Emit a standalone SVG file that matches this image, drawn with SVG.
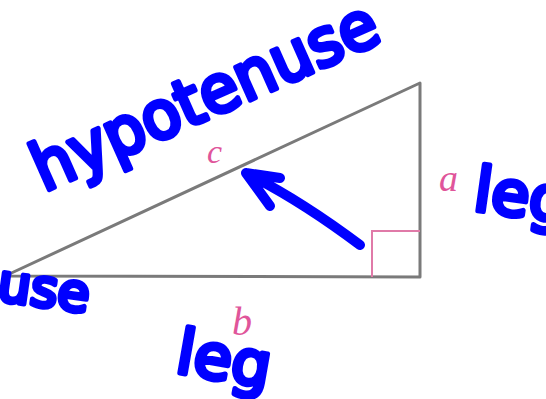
<svg xmlns="http://www.w3.org/2000/svg" width="546" height="399" viewBox="0 0 546 399">
<style>
.hand{font-family:"DejaVu Sans",sans-serif;font-weight:normal;fill:#0000ff;stroke:#0000ff;stroke-width:5;stroke-linejoin:round;stroke-linecap:round}
.lbl{font-family:"Liberation Serif",serif;font-style:italic;fill:#e0559a}
</style>
<rect width="546" height="399" fill="#ffffff"/>
<g id="triangle">
<polygon points="5,276 420,277 420,83" fill="none" stroke="#7a7a7a" stroke-width="3" stroke-linejoin="round"/>
<polyline points="372,277 372,231 420,231" fill="none" stroke="#e07aa8" stroke-width="2"/>
</g>
<g id="labels">
<text class="lbl" x="207" y="163" font-size="34">c</text>
<text class="lbl" x="439" y="191" font-size="38">a</text>
<text class="lbl" x="232" y="335" font-size="40">b</text>
</g>
<g id="annotations">
<text class="hand" font-size="66" transform="translate(44,192) rotate(-24)" textLength="372" lengthAdjust="spacingAndGlyphs">hypotenuse</text>
<text class="hand" font-size="62" transform="translate(472,210) rotate(8)">leg</text>
<text class="hand" font-size="62" transform="translate(174,372) rotate(10)">leg</text>
<text class="hand" font-size="52" transform="translate(-4,300) rotate(8)">use</text>
<path d="M360,245 Q300,200 246,173 M246,173 L280,178 M246,173 L270,206" fill="none" stroke="#0000ff" stroke-width="10" stroke-linecap="round" stroke-linejoin="round"/>
</g>
</svg>
